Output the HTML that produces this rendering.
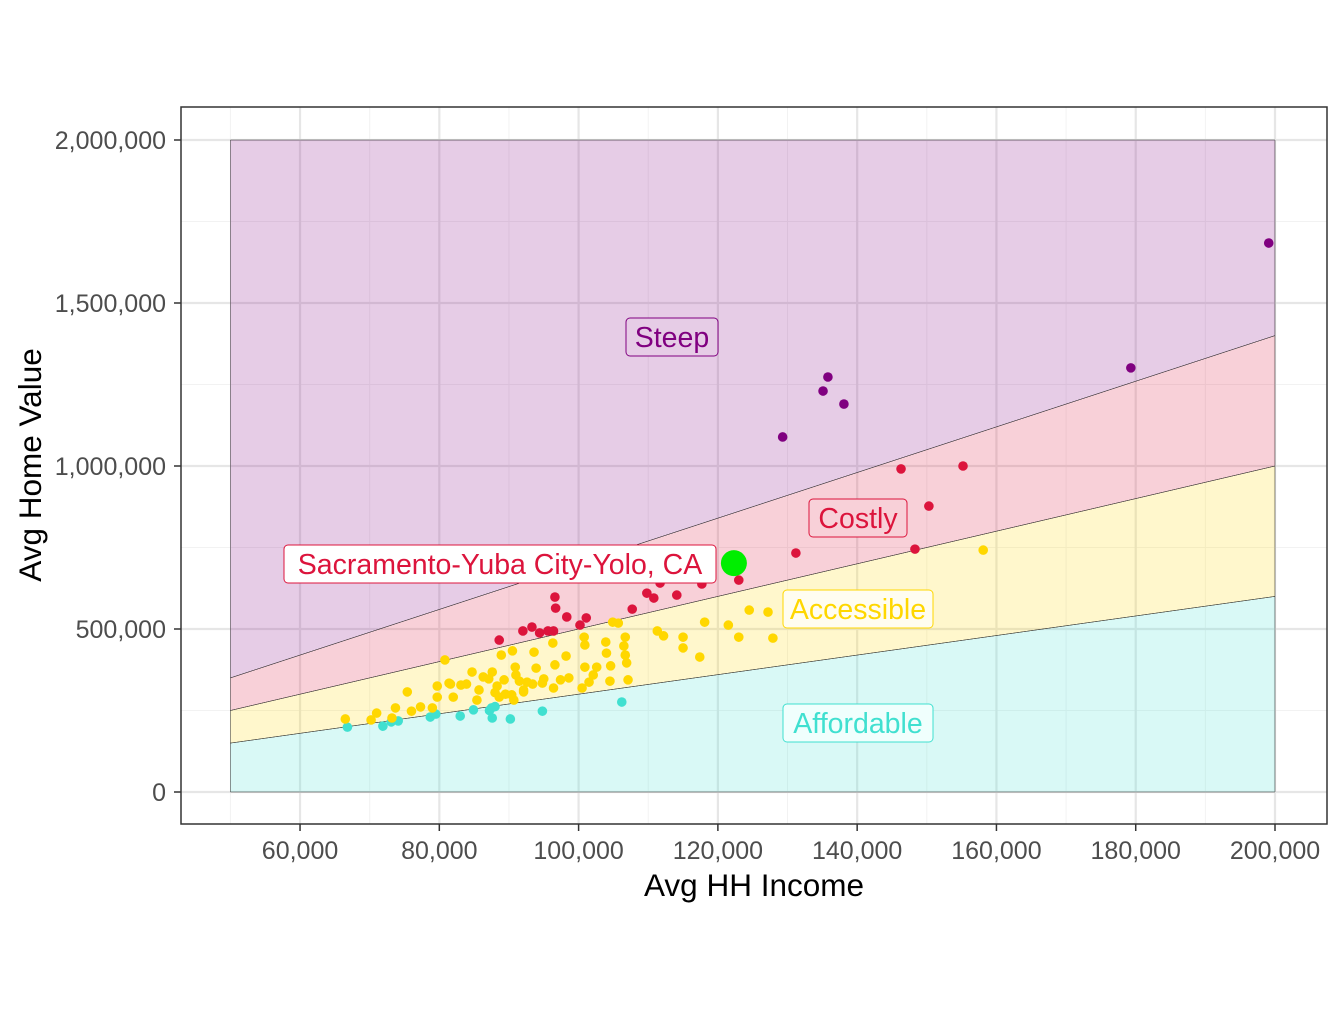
<!DOCTYPE html>
<html><head><meta charset="utf-8"><style>
body{margin:0;background:#fff;}
svg text{font-family:"Liberation Sans",Arial,sans-serif;}
</style></head><body>
<svg id="chart" width="1344" height="1008" viewBox="0 0 1344 1008" xmlns="http://www.w3.org/2000/svg">
<rect x="0" y="0" width="1344" height="1008" fill="#fff"/>
<g id="grid"></g><g id="bands"></g><g id="pts"></g><g id="labels"></g><g id="axes"></g>
</svg>
<script>
const xTicks=[60000,80000,100000,120000,140000,160000,180000,200000];
const yTicks=[0,500000,1000000,1500000,2000000];
const xTickLabels=["60,000","80,000","100,000","120,000","140,000","160,000","180,000","200,000"];
const yTickLabels=["0","500,000","1,000,000","1,500,000","2,000,000"];
const bandMultipliers=[3,5,7];
const steepIncome=[199.1,179.3,135.8,135.1,138.1,129.3];
const steepValue=[1684,1301,1273,1230,1190,1089];
const costlyIncome=[146.3,155.2,150.3,148.3,131.2,123.0,117.7,111.7,109.8,110.8,114.1,107.7,96.6,96.7,98.3,100.2,101.1,88.6,92.0,93.3,94.4,95.6,96.4];
const costlyValue=[991,1000,877,745,733,650,638,641,610,595,604,561,598,564,537,512,534,466,494,506,488,494,494];
const affordIncome=[66.8,71.9,73.1,74.1,78.7,79.5,83.0,84.9,87.5,87.6,90.2,94.8,106.2,87.2,88.0];
const affordValue=[199,202,215,218,230,239,233,252,258,227,224,248,276,250,262];
const accessIncome=[158.1,124.5,127.2,121.5,123.0,127.9,118.1,117.4,115.0,115.0,111.3,112.2,106.7,106.5,106.7,106.9,107.1,104.9,105.7,103.9,104.0,104.6,104.5,102.6,102.1,101.5,100.8,100.9,100.9,100.5,98.2,98.6,97.4,96.3,96.6,96.4,95.0,93.9,93.6,92.6,92.1,90.4,90.5,90.9,89.3,88.9,88.3,88.6,87.6,87.1,86.3,85.7,85.4,84.7,83.9,83.1,82.0,81.6,80.8,81.4,79.7,79.7,79.0,77.3,76.0,75.4,73.7,73.2,71.0,70.2,66.5,91.0,92.1,93.4,94.8,90.7,89.5,91.5,88.0];
const accessValue=[742,558,552,512,475,472,521,414,475,442,494,479,475,448,420,396,344,521,518,460,426,387,340,383,359,337,475,451,383,319,417,350,344,457,390,319,347,380,429,337,307,298,433,383,344,420,325,291,368,347,353,313,282,368,331,328,291,331,405,334,325,291,258,261,248,307,258,227,242,221,224,359,313,331,334,282,300,340,305];
const focusIncome=[122.3], focusValue=[702];

const X=v=>230.4+(v-50000)*6.964/1000;
const Y=v=>792-v*0.326/1000;
const NS="http://www.w3.org/2000/svg";
function mk(tag,attrs,parent,txt){const e=document.createElementNS(NS,tag);for(const k in attrs)e.setAttribute(k,attrs[k]);if(txt!==undefined)e.textContent=txt;document.getElementById(parent).appendChild(e);return e;}

[50000,70000,90000,110000,130000,150000,170000,190000].forEach(v=>{const l=mk('line',{x1:X(v),x2:X(v),y1:107,y2:824,stroke:'#f2f2f2','stroke-width':1},'grid');});
[250000,750000,1250000,1750000].forEach(v=>{const l=mk('line',{x1:181,x2:1327,y1:Y(v),y2:Y(v),stroke:'#f2f2f2','stroke-width':1},'grid');});
xTicks.forEach(v=>{const l=mk('line',{x1:X(v),x2:X(v),y1:107,y2:824,stroke:'#e6e6e6','stroke-width':2.2},'grid');});
yTicks.forEach(v=>{const l=mk('line',{x1:181,x2:1327,y1:Y(v),y2:Y(v),stroke:'#e6e6e6','stroke-width':2.2},'grid');});

const x0=50000,x1=200000;
const bandFill=['rgba(64,224,208,0.2)','rgba(255,215,0,0.2)','rgba(220,20,60,0.2)','rgba(128,0,128,0.2)'];
const bandNames=['affordable-band','accessible-band','costly-band','steep-band'];
const bounds=[0,...bandMultipliers,null];
for(let i=0;i<4;i++){
  const lo=bounds[i],hi=bounds[i+1];
  const yl0=Y(lo*x0),yl1=Y(lo*x1);
  const yh0=hi===null?Y(2000000):Y(hi*x0), yh1=hi===null?Y(2000000):Y(hi*x1);
  const p=mk('polygon',{points:`${X(x0)},${yl0} ${X(x1)},${yl1} ${X(x1)},${yh1} ${X(x0)},${yh0}`,fill:bandFill[i],stroke:'#333','stroke-width':0.5},'bands');
  
  
}

function pts(inc,val,col,name,r){inc.forEach((v,i)=>{const c=mk('circle',{cx:X(v*1000),cy:Y(val[i]*1000),r:r,fill:col},'pts');});}
pts(affordIncome,affordValue,'#40e0d0','affordable-point',4.8);
pts(accessIncome,accessValue,'#ffd700','accessible-point',4.8);
pts(costlyIncome,costlyValue,'#dc143c','costly-point',4.8);
pts(steepIncome,steepValue,'#800080','steep-point',4.8);
pts(focusIncome,focusValue,'#00ee00','sacramento-point',13);

function lab(cx,cy,w,txt,col,fill,name){
  const r=mk('rect',{x:cx-w/2,y:cy-19,width:w,height:38,rx:4,fill:fill,stroke:col,'stroke-width':1},'labels');
  
  const t=mk('text',{x:cx,y:cy+10,'text-anchor':'middle','font-size':28.5,fill:col},'labels',txt);
  
}
lab(672,337,92,'Steep','#800080','#e6cce6','steep-label');
lab(858,518,98,'Costly','#dc143c','#f8d0d8','costly-label');
lab(858,609,150,'Accessible','#ffd700','#fffdf0','accessible-label');
lab(858,723,150,'Affordable','#40e0d0','#f0fffd','affordable-label');
lab(500,564,432,'Sacramento-Yuba City-Yolo, CA','#dc143c','#ffffff','sacramento-label');

const fr=mk('rect',{x:181,y:107,width:1146,height:717,fill:'none',stroke:'#333','stroke-width':1.5},'axes');

xTicks.forEach((v,i)=>{mk('line',{x1:X(v),x2:X(v),y1:824,y2:831,stroke:'#333','stroke-width':1.5},'axes');
 const t=mk('text',{x:X(v),y:859,'text-anchor':'middle','font-size':25,fill:'#4d4d4d'},'axes',xTickLabels[i]);
 });
yTicks.forEach((v,i)=>{mk('line',{x1:174,x2:181,y1:Y(v),y2:Y(v),stroke:'#333','stroke-width':1.5},'axes');
 const t=mk('text',{x:166,y:Y(v)+9,'text-anchor':'end','font-size':25,fill:'#4d4d4d'},'axes',yTickLabels[i]);
 });
const xt=mk('text',{x:754,y:896,'text-anchor':'middle','font-size':31.5,fill:'#000'},'axes','Avg HH Income');

const yt=mk('text',{x:0,y:0,transform:'translate(41,465) rotate(-90)','text-anchor':'middle','font-size':31.5,fill:'#000'},'axes','Avg Home Value');

</script>
</body></html>
